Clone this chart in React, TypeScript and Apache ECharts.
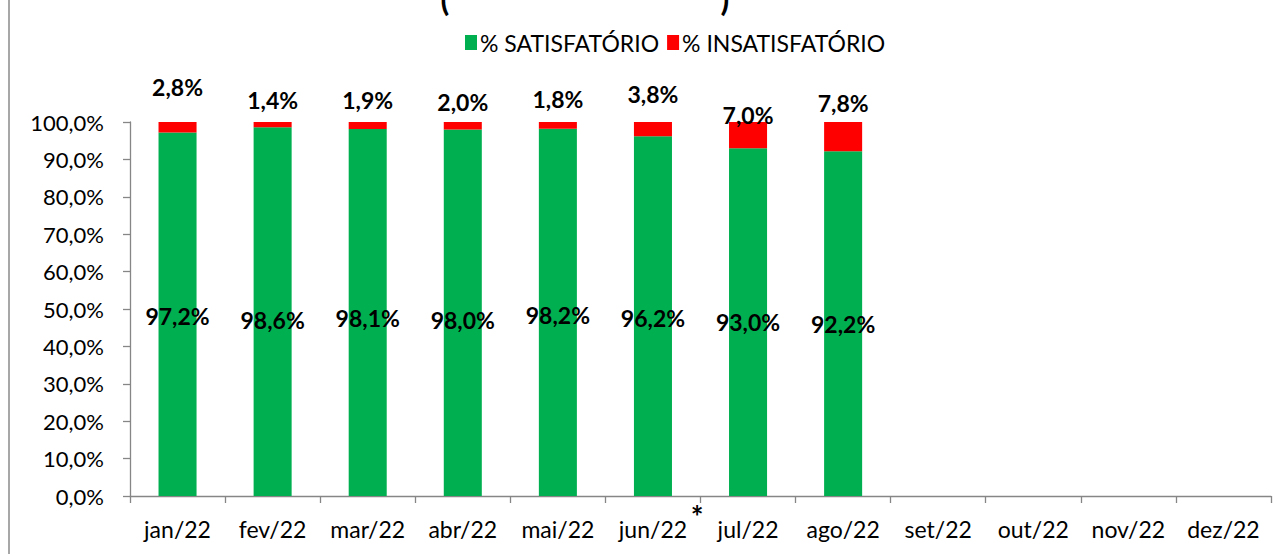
import React, { useEffect, useRef } from "react";
import * as echarts from "echarts";

const categories = ["jan/22", "fev/22", "mar/22", "abr/22", "mai/22", "jun/22", "jul/22", "ago/22", "set/22", "out/22", "nov/22", "dez/22"];
const satisfatorio: (number | null)[] = [97.2, 98.6, 98.1, 98.0, 98.2, 96.2, 93.0, 92.2, null, null, null, null];
const insatisfatorio: (number | null)[] = [2.8, 1.4, 1.9, 2.0, 1.8, 3.8, 7.0, 7.8, null, null, null, null];
const seriesNames = ["% SATISFATÓRIO", "% INSATISFATÓRIO"];

// label nudges (style only)
const satLabelNudge = [2, 8, 5, 7, 3, 2, 0, 0];
const insatLabelNudge = [-20, -7, -7, -5, -8, -13, 8, -4];

const FONT = "Lato, 'Open Sans', sans-serif";
const fmt = (v: number) => v.toFixed(1).replace(".", ",") + "%";

export default function App() {
  const ref = useRef<HTMLDivElement>(null);
  useEffect(() => {
    if (!ref.current) return;
    const chart = echarts.init(ref.current, undefined, { renderer: "svg" });
    chart.setOption({
      animation: false,
      backgroundColor: "#fff",
      textStyle: { fontFamily: FONT },
      grid: { left: 130, right: 15, top: 122, bottom: 58 },
      legend: {
        left: 460,
        top: 26,
        itemWidth: 12,
        itemHeight: 15,
        itemGap: 8,
        icon: "rect",
        textStyle: { fontFamily: FONT, fontSize: 23, color: "#000", padding: [0, 0, 0, -2] },
        data: seriesNames,
      },
      xAxis: {
        type: "category",
        data: categories,
        axisLine: { lineStyle: { color: "#868686", width: 1.3 } },
        axisTick: { show: true, length: 7, interval: 0, alignWithLabel: false, lineStyle: { color: "#868686", width: 1.3 } },
        axisLabel: { interval: 0, margin: 21, fontSize: 23, color: "#000", fontFamily: FONT },
      },
      yAxis: {
        type: "value",
        min: 0,
        max: 100,
        interval: 10,
        splitLine: { show: false },
        axisLine: { show: true, lineStyle: { color: "#868686", width: 1.3 } },
        axisTick: { show: true, length: 7, lineStyle: { color: "#868686", width: 1.3 } },
        axisLabel: { margin: 26, fontSize: 22, color: "#000", fontFamily: FONT, formatter: (v: number) => fmt(v) },
      },
      series: [
        {
          name: seriesNames[0],
          type: "bar",
          stack: "total",
          barWidth: "40%",
          itemStyle: { color: "#00B050" },
          label: {
            show: true,
            position: "inside",
            fontFamily: FONT,
            fontWeight: "bold",
            fontSize: 23,
            color: "#000",
            formatter: (p: any) => fmt(p.value),
          },
          data: satisfatorio.map((v, i) =>
            v == null ? null : { value: v, label: { offset: [0, satLabelNudge[i] ?? 0] } }
          ),
        },
        {
          name: seriesNames[1],
          type: "bar",
          stack: "total",
          barWidth: "40%",
          itemStyle: { color: "#FF0000" },
          label: {
            show: true,
            position: "top",
            distance: 4,
            fontFamily: FONT,
            fontWeight: "bold",
            fontSize: 23,
            color: "#000",
            formatter: (p: any) => fmt(p.value),
          },
          data: insatisfatorio.map((v, i) =>
            v == null ? null : { value: v, label: { offset: [0, insatLabelNudge[i] ?? 0] } }
          ),
        },
      ],
      graphic: [
        { type: "line", shape: { x1: 9, y1: 0, x2: 9, y2: 554 }, style: { stroke: "#8a8a8a", lineWidth: 1.5 } },
        { type: "text", x: 445, y: 14, style: { text: "(", fontFamily: FONT, fontWeight: "bold", fontSize: 32, fill: "#000", align: "center", verticalAlign: "bottom" } },
        { type: "text", x: 725, y: 14, style: { text: ")", fontFamily: FONT, fontWeight: "bold", fontSize: 32, fill: "#000", align: "center", verticalAlign: "bottom" } },
        { type: "text", x: 697, y: 516, style: { text: "*", fontFamily: FONT, fontWeight: "bold", fontSize: 30, fill: "#000", align: "center", verticalAlign: "middle" } },
      ],
    });
    return () => chart.dispose();
  }, []);
  return <div ref={ref} style={{ position: "absolute", left: 0, top: 0, width: 1286, height: 554 }} />;
}
